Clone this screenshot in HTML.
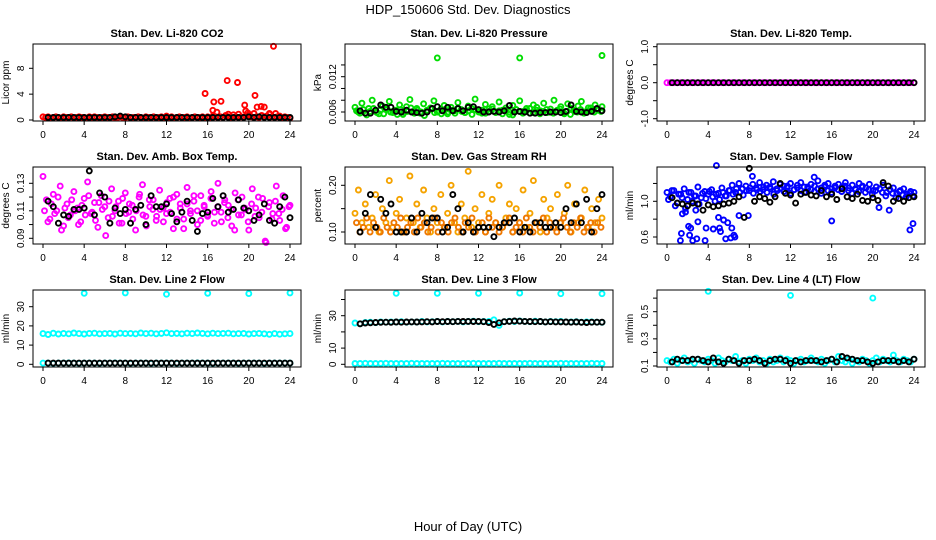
<!DOCTYPE html>
<html><head><meta charset="utf-8"><style>
body{margin:0;background:#fff;}
svg{display:block;font-family:"Liberation Sans",sans-serif;}
</style></head><body>
<svg id="chart" width="936" height="540" viewBox="0 0 936 540" xmlns="http://www.w3.org/2000/svg">
<text x="468" y="14" text-anchor="middle" font-size="13">HDP_150606  Std. Dev. Diagnostics</text>
<text x="468" y="531" text-anchor="middle" font-size="13">Hour of Day (UTC)</text>
</svg>
<script>
// ---- data ----
const titles = ["Stan. Dev. Li-820 CO2","Stan. Dev. Li-820 Pressure","Stan. Dev. Li-820 Temp.","Stan. Dev. Amb. Box Temp.","Stan. Dev. Gas Stream RH","Stan. Dev. Sample Flow","Stan. Dev. Line 2 Flow","Stan. Dev. Line 3 Flow","Stan. Dev. Line 4 (LT) Flow"];
const yLabels = ["Licor ppm","kPa","degrees C","degrees C","percent","ml/min","ml/min","ml/min","ml/min"];
const xTicks = [0,4,8,12,16,20,24];
const yTicks = [[0,4,8],[0.006,0.008,0.010,0.012,0.014],[-1,-0.5,0,0.5,1],[0.09,0.10,0.11,0.12,0.13],[0.10,0.15,0.20],[0.6,0.8,1.0,1.2],[0,10,20,30],[0,10,20,30,40],[0.1,0.2,0.3,0.4,0.5,0.6]];
const yTickLabels = [["0","4","8"],["0.006","","","0.012",""],["-1.0","","0.0","","1.0"],["0.09","","0.11","","0.13"],["0.10","","0.20"],["0.6","","1.0",""],["0","10","20","30"],["0","10","","30",""],["0.1","","0.3","","0.5",""]];

const co2Base = [0.5,0.4,0.5,0.3,0.4,0.5,0.4,0.3,0.5,0.4,0.4,0.5,0.3,0.4,0.5,0.4,0.4,0.3,0.5,0.4,0.5,0.4,0.3,0.4,0.5,0.4,0.4,0.5,0.3,0.4,0.5,0.4,0.4,0.5,0.3,0.4,0.4,0.5,0.4,0.3,0.5,0.4,0.4,0.5,0.3,0.4,0.5,0.4,0.6,0.4,0.5,0.3,0.4,0.5,0.4,0.4,0.5,0.3,0.4,0.5,0.4,0.4,0.5,0.3,0.5,0.4,0.6,0.5,0.4,0.5,0.4,0.7,0.5,0.4,0.8,0.5,0.9,0.5,0.4,0.6,0.8,0.5,1.0,0.5,0.4,0.7,0.5,0.6,0.9,0.5,0.4,0.5,0.6,0.4,0.5,0.4,0.3];
const co2OutHours = [15.75,16.5,16.6,16.9,17.3,17.9,18.9,19.6,19.7,20.6,20.8,21.2,21.5,22.0,22.4,22.6,18.0,19.9];
const co2OutVals = [4.1,1.5,2.8,1.2,2.9,6.1,5.8,2.3,1.4,3.8,2.0,2.1,2.0,1.0,11.4,1.0,0.9,1.1];
const co2Black = [0.4,0.4,0.4,0.4,0.4,0.4,0.4,0.4,0.4,0.4,0.4,0.4,0.4,0.5,0.6,0.5,0.4,0.4,0.4,0.4,0.4,0.4,0.4,0.4,0.4,0.4,0.4,0.4,0.4,0.4,0.4,0.4,0.4,0.4,0.4,0.4,0.4,0.4,0.4,0.5,0.4,0.5,0.4,0.4,0.4,0.4,0.4,0.4];

const presA = [.0068,.0060,.0075,.0058,.0066,.0080,.0062,.0057,.0070,.0064,.0078,.0059,.0063,.0072,.0056,.0069,.0081,.0061,.0066,.0058,.0074,.0063,.0067,.0079,.0060,.0065,.0071,.0057,.0068,.0062,.0076,.0064,.0059,.0070,.0066,.0082,.0061,.0058,.0073,.0065,.0069,.0060,.0077,.0063,.0067,.0056,.0071,.0064,.0079,.0061,.0066,.0058,.0072,.0068,.0062,.0075,.0059,.0065,.0080,.0063,.0069,.0057,.0074,.0066,.0061,.0070,.0078,.0060,.0067,.0063,.0072,.0065,.0069];
const presB = [.0062,.0058,.0064,.0055,.0061,.0066,.0059,.0063,.0057,.0065,.0060,.0062,.0056,.0064,.0059,.0061,.0067,.0058,.0063,.0060,.0054,.0062,.0065,.0059,.0061,.0057,.0064,.0060,.0063,.0058,.0066,.0061,.0059,.0062,.0056,.0064,.0060,.0063,.0058,.0061,.0065,.0059,.0062,.0057,.0063,.0060,.0055,.0064,.0061,.0058,.0062,.0066,.0059,.0063,.0057,.0061,.0064,.0060,.0058,.0062,.0065,.0059,.0061,.0056,.0063,.0060,.0064,.0058,.0062,.0067,.0060,.0063,.0061];
const presOutHours = [8,16,24];
const presOutVals = [.0152,.0152,.0156];
const presBlack = [.0062,.0058,.0058,.0063,.0072,.0068,.0068,.0061,.0060,.0063,.0060,.0059,.0058,.0060,.0066,.0069,.0062,.0068,.0062,.0066,.0062,.0068,.0069,.0064,.0060,.0060,.0061,.0060,.0062,.0071,.0060,.0061,.0060,.0058,.0058,.0059,.0059,.0060,.0060,.0059,.0061,.0072,.0061,.0060,.0059,.0061,.0066,.0062];

const tempMag = [0,0,0,0,0,0,0,0,0,0,0,0,0,0,0,0,0,0,0,0,0,0,0,0,0,0,0,0,0,0,0,0,0,0,0,0,0,0,0,0,0,0,0,0,0,0,0,0,0,0,0,0,0,0,0,0,0,0,0,0,0,0,0,0,0,0,0,0,0,0,0,0,0];
const tempBlack = [0,0,0,0,0,0,0,0,0,0,0,0,0,0,0,0,0,0,0,0,0,0,0,0,0,0,0,0,0,0,0,0,0,0,0,0,0,0,0,0,0,0,0,0,0,0,0,0];

const ambA = [.135,.118,.104,.122,.110,.128,.099,.115,.107,.124,.112,.102,.119,.131,.108,.116,.098,.121,.113,.105,.126,.110,.117,.101,.123,.109,.114,.096,.120,.129,.106,.118,.111,.103,.125,.112,.108,.119,.097,.122,.115,.104,.127,.110,.117,.100,.121,.113,.106,.124,.109,.130,.102,.118,.114,.099,.123,.107,.120,.111,.096,.126,.112,.105,.119,.087,.116,.108,.128,.103,.121,.098,.114];
const ambB = [.110,.102,.115,.108,.120,.096,.112,.105,.118,.110,.100,.114,.107,.121,.109,.103,.116,.111,.092,.117,.106,.113,.101,.119,.108,.115,.104,.110,.122,.107,.099,.113,.118,.106,.111,.102,.116,.109,.120,.104,.112,.097,.115,.108,.121,.110,.103,.114,.107,.119,.101,.113,.109,.116,.105,.111,.096,.118,.107,.112,.102,.115,.106,.120,.109,.088,.113,.104,.117,.108,.111,.097,.113];
const ambBlack = [.117,.113,.101,.107,.106,.111,.111,.112,.139,.107,.123,.120,.101,.112,.108,.111,.101,.111,.114,.100,.121,.113,.113,.115,.108,.102,.109,.117,.103,.095,.108,.109,.119,.113,.121,.109,.111,.118,.112,.110,.103,.107,.115,.103,.101,.113,.120,.105];

const rhA = [.14,.19,.12,.16,.11,.13,.18,.10,.15,.12,.21,.11,.14,.17,.10,.13,.22,.12,.16,.11,.19,.13,.10,.15,.12,.18,.11,.14,.20,.12,.10,.16,.13,.23,.11,.15,.12,.18,.10,.14,.17,.12,.20,.11,.13,.16,.10,.15,.12,.19,.11,.14,.21,.12,.10,.17,.13,.15,.11,.18,.12,.14,.20,.10,.16,.12,.13,.19,.11,.15,.12,.17,.13];
const rhB = [.12,.10,.11,.13,.10,.12,.11,.10,.13,.11,.10,.12,.11,.13,.10,.11,.12,.10,.13,.11,.12,.10,.11,.13,.10,.12,.11,.10,.12,.13,.11,.10,.12,.11,.13,.10,.11,.12,.10,.13,.11,.12,.10,.11,.12,.13,.10,.11,.12,.10,.13,.11,.10,.12,.11,.13,.10,.12,.11,.10,.12,.13,.11,.10,.12,.11,.13,.10,.11,.12,.10,.12,.11];
const rhBlack = [.10,.14,.18,.11,.17,.14,.16,.10,.10,.10,.13,.10,.14,.12,.13,.13,.10,.11,.18,.15,.10,.12,.10,.11,.11,.11,.09,.11,.12,.12,.13,.10,.11,.10,.12,.12,.11,.11,.12,.11,.15,.12,.16,.12,.17,.10,.15,.18];

const flowA = [1.10,1.05,1.12,0.98,1.08,1.14,1.02,1.10,1.06,1.16,1.04,1.11,1.08,1.13,1.00,1.09,1.15,1.06,1.12,1.18,1.10,1.20,1.14,1.17,1.12,1.19,1.15,1.21,1.13,1.18,1.16,1.22,1.14,1.19,1.17,1.15,1.20,1.13,1.18,1.21,1.16,1.14,1.19,1.17,1.23,1.15,1.18,1.20,1.14,1.17,1.19,1.16,1.21,1.15,1.18,1.13,1.20,1.17,1.15,1.19,1.12,1.16,1.14,1.18,1.10,1.13,1.15,1.09,1.12,1.14,1.08,1.11,1.10];
const flowB = [1.02,1.12,0.95,1.08,1.04,0.92,1.10,1.00,1.06,0.97,1.09,1.03,1.11,1.05,1.08,1.02,1.10,1.06,1.12,1.08,1.14,1.10,1.07,1.12,1.15,1.09,1.13,1.11,1.16,1.10,1.14,1.08,1.12,1.15,1.11,1.17,1.09,1.13,1.15,1.12,1.10,1.16,1.13,1.11,1.14,1.09,1.16,1.12,1.10,1.15,1.13,1.11,1.17,1.12,1.09,1.14,1.11,1.16,1.10,1.13,1.08,1.12,0.93,1.10,1.06,0.90,1.09,1.04,1.11,1.07,1.05,1.09,1.06];
const flowOutHours = [1.3,1.4,1.5,1.8,2.1,2.2,2.3,2.5,2.8,2.9,3.0,3.7,3.8,4.5,4.8,5.0,5.1,5.2,5.5,5.7,5.9,6.2,6.3,6.5,6.6,7.0,7.9,16.0,23.6,23.9,14.3,8.3];
const flowOutVals = [0.56,0.64,0.86,0.88,0.72,0.62,0.70,0.56,0.90,0.58,0.77,0.56,0.70,0.69,1.40,0.82,0.70,0.66,0.79,0.58,0.76,0.59,0.70,0.62,0.60,0.84,0.84,0.78,0.68,0.75,1.27,1.28];
const flowBlack = [1.04,0.98,0.97,0.95,0.98,0.97,0.90,0.96,0.94,0.95,0.97,0.98,1.00,1.05,0.82,1.37,1.00,1.05,1.03,0.99,1.05,1.20,1.09,1.07,0.98,1.08,1.10,1.07,1.06,1.12,1.05,1.08,1.02,1.14,1.05,1.03,1.08,1.01,1.00,1.04,1.01,1.21,1.17,1.00,1.03,1.00,1.04,1.05];

const l2High = [16.0,15.5,16.2,15.8,16.1,15.9,16.3,16.0,15.8,16.1,16.2,15.9,16.0,16.1,15.8,16.2,16.0,16.1,15.9,16.3,16.0,16.2,15.9,16.1,16.4,16.0,16.1,15.9,16.2,16.0,16.3,16.1,15.9,16.2,16.0,16.1,16.2,15.9,16.0,16.1,15.8,16.0,16.1,15.9,15.6,16.0,15.7,15.9,16.0];
const l2Low = [0.6,0.6,0.5,0.6,0.6,0.7,0.6,0.5,0.6,0.6,0.6,0.5,0.6,0.6,0.7,0.6,0.6,0.5,0.6,0.6,0.6,0.5,0.6,0.6,0.6,0.6,0.5,0.6,0.6,0.6,0.7,0.6,0.6,0.5,0.6,0.6,0.6,0.6,0.5,0.6,0.6,0.6,0.6,0.5,0.6,0.6,0.6,0.6,0.6];
const l2OutHours = [4,8,12,16,20,24];
const l2OutVals = [37,37.2,36.5,37,36.8,37.2];
const l2Black = [0.6,0.6,0.6,0.6,0.6,0.6,0.6,0.6,0.6,0.6,0.6,0.6,0.6,0.6,0.6,0.6,0.6,0.6,0.6,0.6,0.6,0.6,0.6,0.6,0.6,0.6,0.6,0.6,0.6,0.6,0.6,0.6,0.6,0.6,0.6,0.6,0.6,0.6,0.6,0.6,0.6,0.6,0.6,0.6,0.6,0.6,0.6,0.6];

const l3High = [25.5,25.0,25.8,26.0,25.7,26.1,26.0,26.2,26.1,26.3,26.0,26.2,26.1,26.4,26.2,26.3,26.5,26.2,26.4,26.3,26.5,26.2,26.4,26.6,26.3,26.5,26.4,27.5,24.0,26.3,26.6,26.4,26.7,26.5,26.3,26.6,26.4,26.2,26.5,26.3,26.4,26.2,26.1,26.3,26.0,26.2,26.1,26.0,25.9];
const l3Low = [0.5,0.5,0.6,0.5,0.5,0.5,0.6,0.5,0.5,0.5,0.5,0.6,0.5,0.5,0.5,0.5,0.5,0.6,0.5,0.5,0.5,0.5,0.5,0.6,0.5,0.5,0.5,0.5,0.6,0.5,0.5,0.5,0.5,0.5,0.6,0.5,0.5,0.5,0.5,0.5,0.6,0.5,0.5,0.5,0.5,0.5,0.6,0.5,0.5];
const l3OutHours = [4,8,12,16,20,24];
const l3OutVals = [43.8,43.8,43.8,44.0,43.6,43.6];
const l3Black = [25.0,25.5,25.6,25.8,25.9,26.0,25.9,26.1,26.0,26.1,26.2,26.1,26.2,26.3,26.2,26.4,26.3,26.4,26.3,26.5,26.4,26.5,26.4,26.5,26.3,25.8,24.6,25.6,26.3,26.5,26.7,26.6,26.5,26.4,26.3,26.4,26.2,26.3,26.2,26.2,26.1,26.0,26.1,25.9,25.8,26.0,26.0,26.0];

const l4Cyan = [0.14,0.13,0.15,0.12,0.14,0.16,0.13,0.14,0.12,0.15,0.14,0.13,0.15,0.14,0.12,0.16,0.14,0.13,0.15,0.14,0.17,0.13,0.14,0.12,0.15,0.14,0.16,0.13,0.14,0.12,0.15,0.13,0.14,0.16,0.13,0.15,0.14,0.12,0.14,0.15,0.13,0.14,0.16,0.14,0.13,0.15,0.12,0.14,0.15,0.13,0.17,0.14,0.13,0.15,0.12,0.14,0.13,0.15,0.14,0.12,0.14,0.16,0.13,0.15,0.14,0.13,0.18,0.14,0.13,0.15,0.14,0.13,0.15];
const l4OutHours = [4,12,20];
const l4OutVals = [0.65,0.62,0.60];
const l4Black = [0.13,0.15,0.14,0.14,0.15,0.15,0.14,0.13,0.16,0.13,0.12,0.15,0.14,0.12,0.14,0.14,0.15,0.14,0.12,0.14,0.15,0.15,0.14,0.12,0.14,0.13,0.14,0.14,0.14,0.13,0.14,0.15,0.13,0.17,0.16,0.15,0.14,0.14,0.13,0.12,0.13,0.14,0.14,0.14,0.13,0.14,0.13,0.15];

const BLK = "#000";
const panelSeries = [
 [[co2Base,0,24,"#f00"],[co2Black,0.5,24,BLK]],
 [[presA,0,24,"#0d0"],[presB,0.15,23.9,"#0d0"],[presBlack,0.5,24,BLK]],
 [[tempMag,0,24,"#f0f"],[tempBlack,0.5,24,BLK]],
 [[ambA,0,24,"#f0f"],[ambB,0.15,23.9,"#f0f"],[ambBlack,0.5,24,BLK]],
 [[rhA,0,24,"#f5a300"],[rhB,0.15,23.9,"#ee7700"],[rhBlack,0.5,24,BLK]],
 [[flowA,0,24,"#00f"],[flowB,0.15,23.9,"#00f"],[flowBlack,0.5,24,BLK]],
 [[l2High,0,24,"#0ff"],[l2Low,0,24,"#0ff"],[l2Black,0.5,24,BLK]],
 [[l3High,0,24,"#0ff"],[l3Low,0,24,"#0ff"],[l3Black,0.5,24,BLK]],
 [[l4Cyan,0,24,"#0ff"],[l4Black,0.5,24,BLK]]
];
const panelOutliers = [
 [co2OutHours,co2OutVals,"#f00"],[presOutHours,presOutVals,"#0d0"],null,null,null,
 [flowOutHours,flowOutVals,"#00f"],[l2OutHours,l2OutVals,"#0ff"],[l3OutHours,l3OutVals,"#0ff"],[l4OutHours,l4OutVals,"#0ff"]
];
const yCal = [[0,120,8,68.3],[0.006,112,0.012,76.7],[0,82.7,1,46.7],[0.09,238.3,0.13,183.3],[0.10,232,0.20,185.3],[0.6,237,1.0,201.3],[0,364.3,30,306.7],[0,364.3,30,315.7],[0.1,366,0.5,311.7]];

// ---- drawing ----
const svg = document.getElementById('chart');
const NS = "http://www.w3.org/2000/svg";
function mk(tag, attrs, parent){const e=document.createElementNS(NS,tag);for(const k in attrs)e.setAttribute(k,attrs[k]);(parent||svg).appendChild(e);return e;}

for(let p=0;p<9;p++){
  const c=p%3, r=Math.floor(p/3);
  const L=33+312*c, R=301+312*c, T=44+123*r, B=121+123*r;
  const xs=h=>43+312*c+h*(247/24);
  const cal=yCal[p];
  const ys=v=>cal[1]+(v-cal[0])*(cal[3]-cal[1])/(cal[2]-cal[0]);
  const g=mk('g',{});
  
  
  const t=mk('text',{x:(L+R)/2,y:T-7,'text-anchor':'middle','font-size':'11','font-weight':'bold'},g);
  t.textContent=titles[p];
  
  
  const pts=mk('g',{fill:'none','stroke-width':'1.9'},g);
  
  
  const out=panelOutliers[p];
  const all=panelSeries[p];
  function drawSeries(vals,h0,h1,col){
    const n=vals.length;
    for(let i=0;i<n;i++){
      const h=h0+i*(h1-h0)/(n-1);
      const m=mk('circle',{cx:xs(h).toFixed(1),cy:ys(vals[i]).toFixed(1),r:2.5,stroke:col},pts);
      
      
    }
  }
  all.forEach(s=>{ if(s[3]!==BLK) drawSeries(s[0],s[1],s[2],s[3]); });
  if(out){
    for(let i=0;i<out[0].length;i++){
      const m=mk('circle',{cx:xs(out[0][i]).toFixed(1),cy:ys(out[1][i]).toFixed(1),r:2.5,stroke:out[2]},pts);
      
      
    }
  }
  all.forEach(s=>{ if(s[3]===BLK) drawSeries(s[0],s[1],s[2],s[3]); });
  const box=mk('rect',{x:L,y:T,width:R-L,height:B-T,fill:'none',stroke:'#000','stroke-width':'1'},g);
  
  
  xTicks.forEach(h=>{
    const x=xs(h);
    mk('line',{x1:x,y1:B,x2:x,y2:B+4,stroke:'#000'},g);
    const tl=mk('text',{x:x,y:B+17,'text-anchor':'middle','font-size':'10'},g);
    tl.textContent=h;
    
    
  });
  yTicks[p].forEach((v,i)=>{
    const y=ys(v);
    mk('line',{x1:L,y1:y,x2:L-4,y2:y,stroke:'#000'},g);
    if(yTickLabels[p][i]){
      const tl=mk('text',{x:L-9,y:y,'text-anchor':'middle','font-size':'10',transform:`rotate(-90 ${L-9} ${y})`},g);
      tl.textContent=yTickLabels[p][i];
      
      
    }
  });
  const yl=mk('text',{x:L-24,y:(T+B)/2,'text-anchor':'middle','font-size':'10',transform:`rotate(-90 ${L-24} ${(T+B)/2})`},g);
  yl.textContent=yLabels[p];
  
  
}
</script>
</body></html>
